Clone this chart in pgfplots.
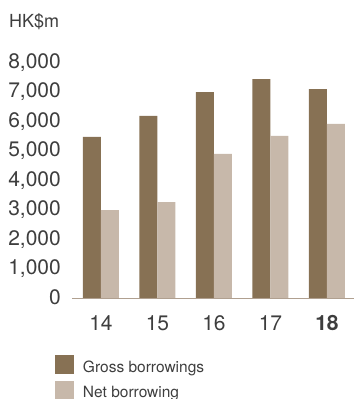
\documentclass[border=0pt]{standalone}
\usepackage{pgfplots}
\pgfplotsset{compat=1.18}
\usepackage{fontspec}
\setmainfont{TeX Gyre Heros}
\definecolor{gross}{RGB}{135,113,84}
\definecolor{net}{RGB}{199,184,170}
\definecolor{txt}{RGB}{62,62,62}
\definecolor{axln}{RGB}{176,160,144}
\begin{document}
\begin{tikzpicture}
\begin{axis}[
  at={(0,0)}, anchor=south west,
  scale only axis, width=282bp, height=236bp,
  ybar=0pt, bar width=18bp,
  xmin=-0.513, xmax=4.478, ymin=0, ymax=8000,
  enlargelimits=false, clip=false,
  axis line style={draw=none},
  major tick length=0pt,
  xtick={0,1,2,3,4}, xticklabels={14,15,16,17,\textbf{18}},
  ytick={0,1000,...,8000},
  yticklabels={0,{1,000},{2,000},{3,000},{4,000},{5,000},{6,000},{7,000},{8,000}},
  /pgf/number format/assume math mode=true,
  tick label style={font=\fontsize{21bp}{25bp}\selectfont, text=txt, inner sep=0pt},
  y tick label style={anchor=base east, xshift=-11bp, yshift=-5.5bp},
  x tick label style={anchor=base, yshift=-31.8bp},
  legend style={draw=none, fill=none, inner sep=0pt, outer sep=0pt,
    at={(-0.0603,-0.2415)}, anchor=north west,
    font=\fontsize{15.5bp}{18bp}\selectfont, text=txt,
    row sep=6.5bp, nodes={inner sep=0pt}},
  legend cell align=left,
  /tikz/every odd column/.append style={column sep=9bp},
  legend image code/.code={\fill[#1, draw=none] (0bp,-7.5bp) rectangle (19bp,11.5bp);},
]
\addplot[fill=gross, draw=none] coordinates {(0,5480) (1,6190) (2,7000) (3,7440) (4,7100)};
\addplot[fill=net, draw=none] coordinates {(0,3000) (1,3270) (2,4900) (3,5510) (4,5920)};
\legend{Gross borrowings, Net borrowing}
\draw[axln, line width=1.3bp] (rel axis cs:0,0) -- (rel axis cs:1,0);
\end{axis}
\node[anchor=base west, inner sep=0pt, text=txt, font=\fontsize{18bp}{22bp}\selectfont] at (-63bp,271bp) {HK\$m};
\pgfresetboundingbox
\useasboundingbox (-72bp,-100.5bp) rectangle (282bp,298.5bp);
\end{tikzpicture}
\end{document}
